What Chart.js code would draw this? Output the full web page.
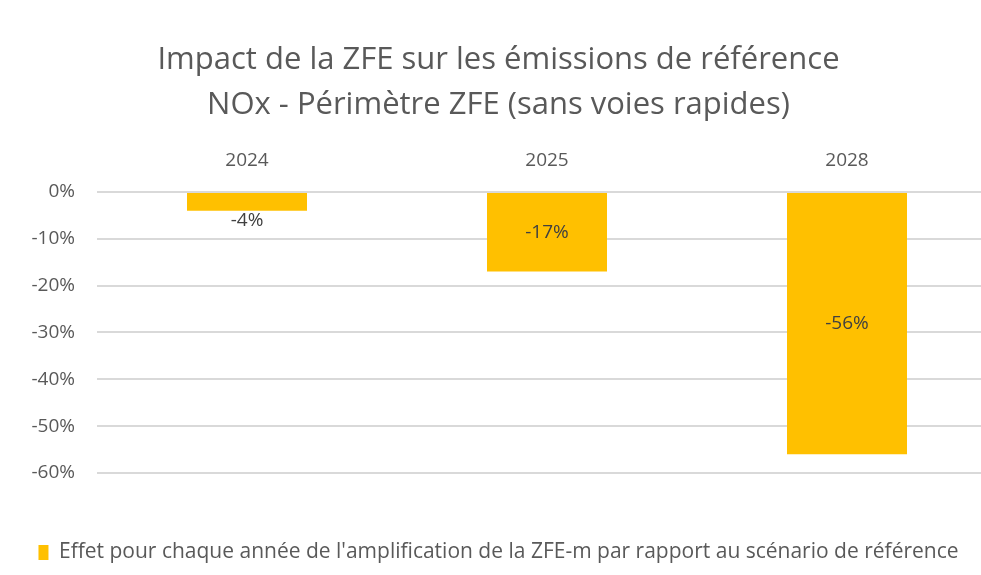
<!DOCTYPE html>
<html>
<head>
<meta charset="utf-8">
<script src="https://cdn.jsdelivr.net/npm/chart.js@4"></script>
<style>
    html, body { margin: 0; padding: 0; background: #fff; overflow: hidden; }
    #wrap { width: 997px; height: 575px; }
</style>
</head>
<body>
<div id="wrap"><canvas id="zfeChart"></canvas></div>
<script>
const years = ['2024', '2025', '2028'];
const effect = [-4, -17, -56];
const yTicks = [0, -10, -20, -30, -40, -50, -60];
const titleLines = ['Impact de la ZFE sur les émissions de référence', 'NOx - Périmètre ZFE (sans voies rapides)'];
const seriesName = "Effet pour chaque année de l'amplification de la ZFE-m par rapport au scénario de référence";

const fontFamily = "'Open Sans', 'Noto Sans', sans-serif";

// Draw value labels: centered inside, or below the bar when it is too short
const valueLabels = {
    id: 'valueLabels',
    afterDatasetsDraw(chart) {
        const ctx = chart.ctx;
        const meta = chart.getDatasetMeta(0);
        ctx.save();
        ctx.font = '19px ' + fontFamily;
        ctx.fillStyle = '#404040';
        ctx.textAlign = 'center';
        ctx.textBaseline = 'middle';
        meta.data.forEach((bar, i) => {
            const h = Math.abs(bar.base - bar.y);
            const y = h < 30 ? bar.y + 10 : (bar.y + bar.base) / 2;
            ctx.fillText(effect[i] + '%', bar.x, y);
        });
        ctx.restore();
    }
};

new Chart(document.getElementById('zfeChart'), {
    type: 'bar',
    data: {
        labels: years,
        datasets: [{
            label: seriesName,
            data: effect,
            backgroundColor: '#ffc000',
            borderWidth: 0,
            barPercentage: 0.4,
            categoryPercentage: 1
        }]
    },
    options: {
        responsive: true,
        maintainAspectRatio: false,
        animation: false,
        layout: { padding: { top: 0, bottom: 2, left: 0, right: 0 } },
        scales: {
            x: {
                position: 'top',
                grid: { display: false },
                border: { display: false },
                ticks: { color: '#595959', font: { size: 19, family: fontFamily }, padding: 12 },
                afterFit(axis) { axis.height = 64; }
            },
            // empty axis only used as a gap between the plot and the legend
            xGap: {
                type: 'category',
                position: 'bottom',
                grid: { display: false },
                border: { display: false },
                ticks: { display: false },
                afterFit(axis) { axis.height = 59; }
            },
            y: {
                min: -60,
                max: 0,
                afterBuildTicks(axis) { axis.ticks = yTicks.map(v => ({ value: v })); },
                afterFit(axis) { axis.width = 97; },
                grid: { color: '#d9d9d9', lineWidth: 2, drawTicks: false },
                border: { display: false },
                ticks: {
                    color: '#595959',
                    font: { size: 19, family: fontFamily },
                    padding: 22,
                    callback: v => v + '%'
                }
            }
        },
        plugins: {
            title: {
                display: true,
                text: titleLines,
                color: '#595959',
                font: { size: 31, family: fontFamily, weight: 'normal', lineHeight: 1.45 },
                padding: { top: 38, bottom: 0 }
            },
            legend: {
                position: 'bottom',
                labels: {
                    color: '#595959',
                    font: { size: 21, family: fontFamily },
                    boxWidth: 10,
                    boxHeight: 15,
                    padding: 10
                }
            },
            tooltip: { enabled: false }
        }
    },
    plugins: [valueLabels]
});
</script>
</body>
</html>
